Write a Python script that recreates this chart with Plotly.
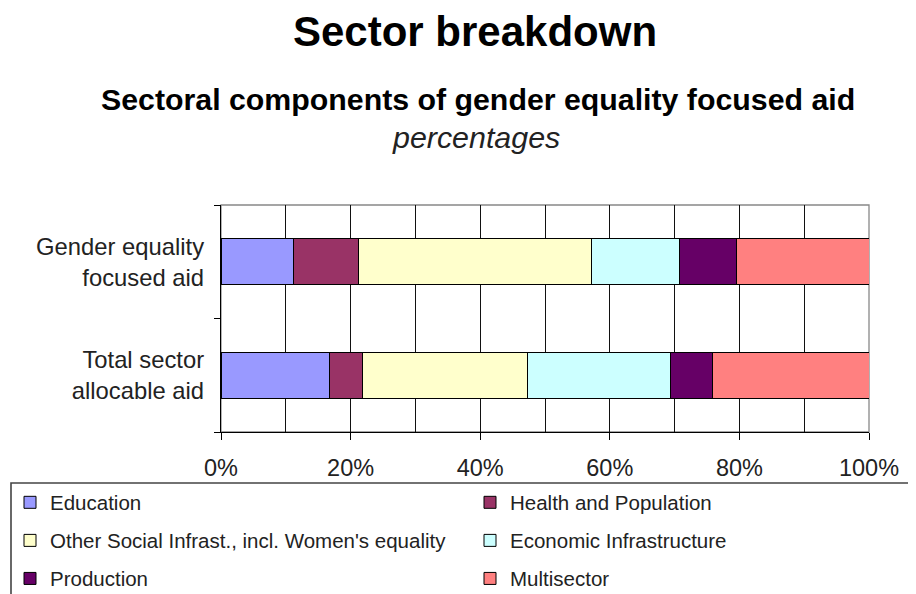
import plotly.graph_objects as go

# ---- data ----
categories = ["Total sector<br>allocable aid", "Gender equality<br>focused aid"]  # bottom -> top
sectors = [
    "Education",
    "Health and Population",
    "Other Social Infrast., incl. Women's equality",
    "Economic Infrastructure",
    "Production",
    "Multisector",
]
# percentages, order matches `categories` (Total sector, Gender equality)
education = [16.8, 11.2]
health_population = [5.0, 10.0]
other_social = [25.5, 36.0]
economic_infra = [22.0, 13.6]
production = [6.6, 8.8]
multisector = [24.1, 20.4]

x_tickvals = [0, 20, 40, 60, 80, 100]
x_ticktext = ["0%", "20%", "40%", "60%", "80%", "100%"]

colors = ["#9999FF", "#993366", "#FFFFCC", "#CCFFFF", "#660066", "#FF8080"]
legend_of = ["legend", "legend2", "legend", "legend2", "legend", "legend2"]
series = [education, health_population, other_social, economic_infra, production, multisector]

FONT = "Liberation Sans, Arial, sans-serif"
W, H = 916, 594
OFF = 8  # page offset of the figure (default body margin)
# target plot area in page pixels: x 221..869, y 205..432
ML = 221 - OFF
MT = 205 - OFF
MR = W - (869 - OFF)
MB = H - (432 - OFF)
PW, PH = W - ML - MR, H - MT - MB


def px_x(px):
    return (px - OFF - ML) / PW


def px_y(py):
    return (H - MB - (py - OFF)) / PH


fig = go.Figure()
for name, vals, col, lg in zip(sectors, series, colors, legend_of):
    fig.add_trace(go.Bar(
        y=categories, x=vals, name=name, orientation="h",
        marker=dict(color=col, line=dict(color="#000000", width=1)),
        legend=lg, legendgroup=name,
    ))

fig.update_layout(
    width=W, height=H,
    margin=dict(l=ML, r=MR, t=MT, b=MB, autoexpand=False),
    barmode="stack", bargap=0.595,
    paper_bgcolor="white", plot_bgcolor="white",
    font=dict(family=FONT, color="#222222"),
    title=dict(text="<b>Sector breakdown</b>", x=467 / W, xref="container",
               y=1 - 23 / H, yref="container", xanchor="center", yanchor="middle",
               font=dict(size=42, color="#000000", family=FONT)),
    xaxis=dict(range=[0, 100], tickvals=x_tickvals, ticktext=x_ticktext,
               showgrid=True, gridcolor="#111111", gridwidth=1,
               minor=dict(dtick=10, showgrid=True, gridcolor="#111111", gridwidth=1, ticks=""),
               showline=True, linecolor="#000000", linewidth=1.3,
               ticks="outside", ticklen=7, tickcolor="#000000", tickwidth=1.3,
               ticklabelstandoff=8,
               tickfont=dict(size=23.5, color="#222222"), zeroline=False, fixedrange=True,
               automargin=False),
    yaxis=dict(type="category", categoryorder="array", categoryarray=categories,
               tickson="boundaries", showgrid=False,
               showline=True, linecolor="#000000", linewidth=1.3,
               ticks="outside", ticklen=6, tickcolor="#000000", tickwidth=1.3,
               ticklabelstandoff=11,
               tickfont=dict(size=23.8, color="#222222"), fixedrange=True,
               automargin=False),
    legend=dict(orientation="v", xref="container", yref="container",
                x=2 / W, y=1 - 474.5 / H, xanchor="left", yanchor="top",
                tracegroupgap=8.4, bgcolor="rgba(0,0,0,0)",
                font=dict(size=20.5, color="#222222", family=FONT)),
    legend2=dict(orientation="v", xref="container", yref="container",
                 x=462 / W, y=1 - 474.5 / H, xanchor="left", yanchor="top",
                 tracegroupgap=8.4, bgcolor="rgba(0,0,0,0)",
                 font=dict(size=20.5, color="#222222", family=FONT)),
    showlegend=True,
)

# plot-area border (top / right) and legend frame
fig.add_shape(type="rect", xref="paper", yref="paper", x0=0, x1=1, y0=0, y1=1,
              line=dict(color="#888888", width=1.3), layer="below")
fig.add_shape(type="rect", xref="paper", yref="paper",
              x0=px_x(11), x1=px_x(940), y0=px_y(483), y1=px_y(640),
              line=dict(color="#444444", width=1.6), layer="above")

fig.add_annotation(text="<b>Sectoral components of gender equality focused aid</b>",
                   xref="paper", yref="paper", x=px_x(478), y=px_y(100),
                   xanchor="center", yanchor="middle", showarrow=False,
                   font=dict(size=30.3, color="#000000", family=FONT))
fig.add_annotation(text="<i>percentages</i>",
                   xref="paper", yref="paper", x=px_x(476), y=px_y(137),
                   xanchor="center", yanchor="middle", showarrow=False,
                   font=dict(size=30.4, color="#222222", family=FONT))

fig.write_html("out.html")
